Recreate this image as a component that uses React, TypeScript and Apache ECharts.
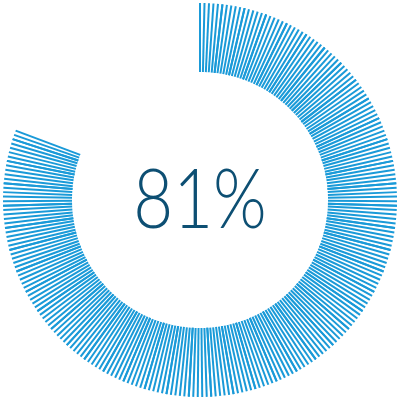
import React, { useEffect, useRef } from "react";
import * as echarts from "echarts";

const values = [81];
const maxValue = 100;
const tickColor = "#1a9ad8";
const textColor = "#0d4f73";

export default function App() {
  const ref = useRef<HTMLDivElement>(null);
  useEffect(() => {
    const chart = echarts.init(ref.current!, null, { renderer: "svg" });
    const pct = values[0] / maxValue;
    chart.setOption({
      animation: false,
      graphic: [
        {
          type: "text",
          x: 200,
          y: 196,
          scaleX: 0.83,
          style: {
            text: `${values[0]}%`,
            fill: textColor,
            font: '300 83px "Lato"',
            textAlign: "center",
            textVerticalAlign: "middle",
          },
        },
      ],
      series: [
        {
          type: "gauge",
          center: [200, 200],
          radius: 197,
          startAngle: 90,
          endAngle: -270,
          min: 0,
          max: maxValue,
          splitNumber: 55,
          pointer: { show: false },
          progress: { show: false },
          axisLine: {
            show: false,
            lineStyle: { width: 0, color: [[pct, tickColor], [1, "rgba(0,0,0,0)"]] },
          },
          splitLine: { show: false },
          axisTick: {
            show: true,
            splitNumber: 5,
            length: 69,
            distance: 0,
            lineStyle: { color: "auto", width: 2, cap: "butt" },
          },
          axisLabel: { show: false },
          title: { show: false },
          detail: { show: false },
          data: [{ value: values[0] }],
        },
      ],
    });
    return () => chart.dispose();
  }, []);
  return (
    <div
      ref={ref}
      style={{ position: "fixed", left: 0, top: 0, width: 400, height: 400, background: "#fff" }}
    />
  );
}
